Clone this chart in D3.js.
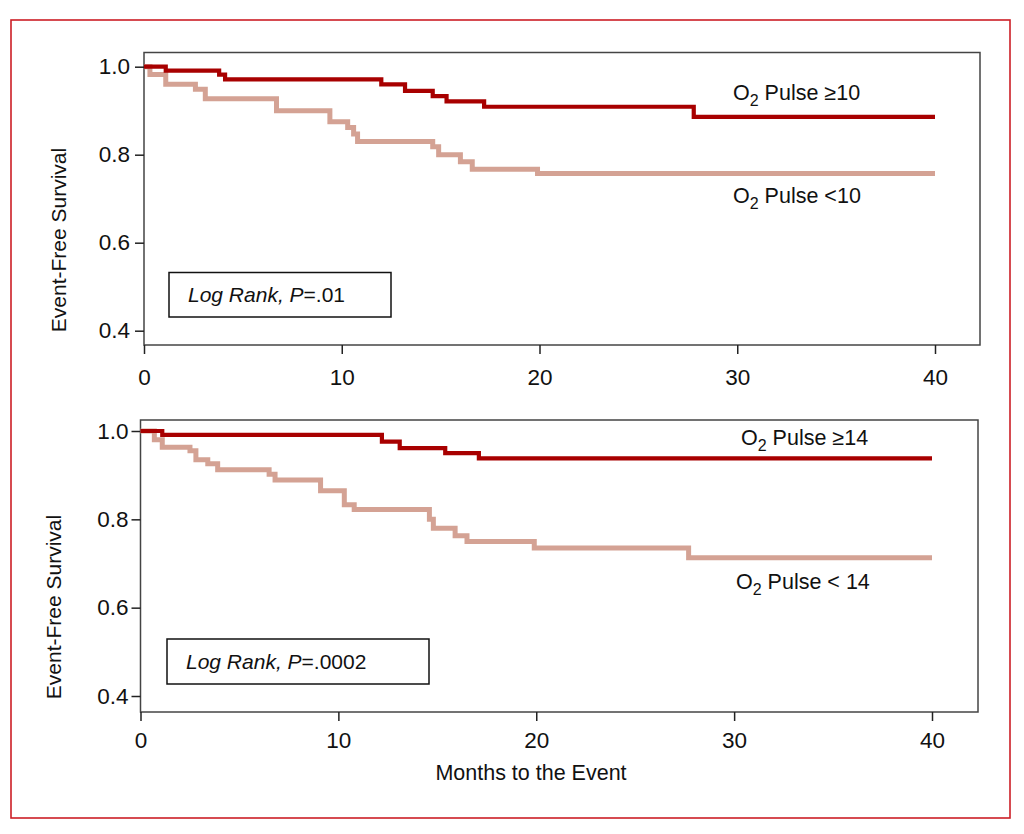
<!DOCTYPE html>
<html>
<head>
<meta charset="utf-8">
<script src="https://cdn.jsdelivr.net/npm/d3@7"></script>
<style>
  body { margin: 0; background: #fff; }
  svg text { font-family: "Liberation Sans", Arial, sans-serif; fill: #111; }
</style>
</head>
<body>
<svg id="chart" width="1024" height="834"></svg>
<script>
// survival steps (months, event-free survival)
const topHighTime = [0, 1.1, 3.8, 4.1, 12.0, 13.2, 14.6, 15.3, 17.2, 27.8, 40];
const topHighSurv = [1.0, 0.991, 0.982, 0.971, 0.960, 0.945, 0.933, 0.921, 0.909, 0.886, 0.886];
const topLowTime = [0, 0.3, 1.1, 2.6, 3.1, 6.7, 9.4, 10.3, 10.6, 10.8, 14.6, 14.9, 16.0, 16.6, 19.9, 40];
const topLowSurv = [1.0, 0.982, 0.96, 0.949, 0.927, 0.90, 0.875, 0.862, 0.847, 0.83, 0.818, 0.80, 0.784, 0.767, 0.757, 0.757];

const botHighTime = [0, 1.1, 12.2, 13.1, 15.4, 17.1, 40];
const botHighSurv = [1.0, 0.991, 0.976, 0.961, 0.95, 0.938, 0.938];
const botLowTime = [0, 0.7, 1.1, 2.5, 2.8, 3.4, 3.9, 6.5, 6.8, 9.1, 10.3, 10.8, 14.6, 14.8, 15.9, 16.5, 19.9, 27.7, 40];
const botLowSurv = [1.0, 0.98, 0.963, 0.955, 0.935, 0.926, 0.912, 0.902, 0.889, 0.865, 0.833, 0.822, 0.80, 0.78, 0.763, 0.75, 0.735, 0.713, 0.713];

const xTicks = [0, 10, 20, 30, 40];
const yTicks = [0.4, 0.6, 0.8, 1.0];
const topLabels = ["≥10", "<10"];
const botLabels = ["≥14", "< 14"];
const topP = ".01";
const botP = ".0002";

const svg = d3.select("#chart");
const darkRed = "#a80000";
const lightRed = "#d4a294";

// red outer frame
svg.append("rect")
    .attr("x", 11).attr("y", 20)
    .attr("width", 999).attr("height", 798)
    .attr("fill", "none")
    .attr("stroke", "#cc1f26")
    .attr("stroke-width", 1.6);

function drawPanel(p) {
    const x = d3.scaleLinear().domain([0, p.xMax]).range([p.left, p.right]);
    const y = d3.scaleLinear().domain([p.yMin, p.yMax]).range([p.bottom, p.top]);
    const g = svg.append("g");

    // plot box
    g.append("rect")
        .attr("x", p.left).attr("y", p.top)
        .attr("width", p.right - p.left).attr("height", p.bottom - p.top)
        .attr("fill", "none")
        .attr("stroke", "#444")
        .attr("stroke-width", 1.5);

    const xAxis = g.append("g")
        .attr("transform", `translate(0,${p.bottom})`)
        .call(d3.axisBottom(x).tickValues(xTicks).tickSize(9).tickPadding(p.xPad).tickFormat(d3.format("d")));
    const yAxis = g.append("g")
        .attr("transform", `translate(${p.left},0)`)
        .call(d3.axisLeft(y).tickValues(yTicks).tickSize(9).tickPadding(p.yPad).tickFormat(d3.format(".1f")));
    [xAxis, yAxis].forEach(a => {
        a.select(".domain").remove();
        a.selectAll(".tick line").attr("stroke", "#222").attr("stroke-width", 1.5);
        a.selectAll(".tick text").style("font-size", "22.5px").attr("fill", "#111");
    });

    const line = d3.line()
        .x(d => x(d[0]))
        .y(d => y(d[1]))
        .curve(d3.curveStepAfter);

    g.append("path")
        .datum(d3.zip(p.lowTime, p.lowSurv))
        .attr("d", line)
        .attr("fill", "none")
        .attr("stroke", lightRed)
        .attr("stroke-width", 5);

    g.append("path")
        .datum(d3.zip(p.highTime, p.highSurv))
        .attr("d", line)
        .attr("fill", "none")
        .attr("stroke", darkRed)
        .attr("stroke-width", 4.2);

    // curve labels
    p.labels.forEach((lab, i) => {
        const t = g.append("text")
            .attr("x", p.labelX[i]).attr("y", p.labelY[i])
            .style("font-size", "21.5px");
        t.append("tspan").text("O");
        t.append("tspan").attr("dy", 6).style("font-size", "16px").text("2");
        t.append("tspan").attr("dy", -6).text(" Pulse " + lab);
    });

    // log rank box
    g.append("rect")
        .attr("x", p.box[0]).attr("y", p.box[1])
        .attr("width", p.box[2]).attr("height", p.box[3])
        .attr("fill", "#fff")
        .attr("stroke", "#111")
        .attr("stroke-width", 1.5);
    const lt = g.append("text")
        .attr("x", p.box[0] + 19).attr("y", p.box[1] + 29.5)
        .style("font-size", "21px");
    lt.append("tspan").style("font-style", "italic").text("Log Rank, P");
    lt.append("tspan").text("=" + p.pval);

    // y axis title
    g.append("text")
        .attr("transform", `translate(${p.yTitleX},${p.yTitleY}) rotate(-90)`)
        .attr("text-anchor", "middle")
        .style("font-size", "21px")
        .text("Event-Free Survival");
}

drawPanel({
    left: 144, right: 980, top: 52.5, bottom: 345,
    xMax: 40 * (980 - 144) / (935 - 144),
    yMin: 0.4 - 14.3 / 440, yMax: 1.0 + 14.2 / 440,
    highTime: topHighTime, highSurv: topHighSurv,
    lowTime: topLowTime, lowSurv: topLowSurv,
    labels: topLabels, labelX: [733, 733], labelY: [100, 203],
    box: [169, 272.5, 222, 44.5], pval: topP,
    xPad: 15, yPad: 5,
    yTitleX: 66, yTitleY: 240
});

drawPanel({
    left: 140.5, right: 978, top: 420, bottom: 712,
    xMax: 40 * (978 - 140.5) / (932 - 140.5),
    yMin: 0.4 - 16 / 441.7, yMax: 1.0 + 11 / 441.7,
    highTime: botHighTime, highSurv: botHighSurv,
    lowTime: botLowTime, lowSurv: botLowSurv,
    labels: botLabels, labelX: [741, 736], labelY: [445, 589],
    box: [167, 639, 262, 45], pval: botP,
    xPad: 11, yPad: 3,
    yTitleX: 61, yTitleY: 607
});

svg.append("text")
    .attr("x", 531).attr("y", 780)
    .attr("text-anchor", "middle")
    .style("font-size", "21.5px")
    .text("Months to the Event");
</script>
</body>
</html>
